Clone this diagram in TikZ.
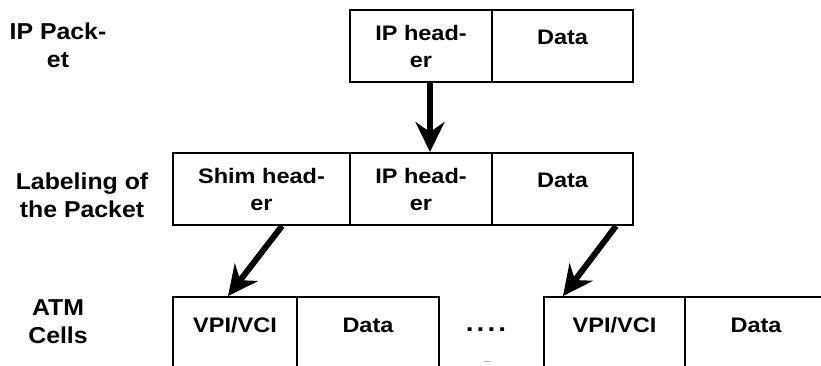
\documentclass[tikz,border=0pt]{standalone}
\usepackage{fontspec}
\setmainfont{Liberation Sans}
\newfontfamily\cellfont[FakeStretch=1.12]{Liberation Sans}
\newfontfamily\rowfont[FakeStretch=1.08]{Liberation Sans}
\usetikzlibrary{arrows.meta}

\begin{document}
\begin{tikzpicture}[
        x=1pt, y=1pt,
        flow/.style={-{Stealth[length=30pt, width=29pt, inset=10pt]}, line width=6pt},
        cell/.style={draw, line width=1.9pt, inner sep=0pt, align=center,
            minimum height=72pt, font=\fontsize{21}{27}\cellfont\bfseries},
        onecell/.style={cell, minimum height=0pt, text height=35pt, text depth=37pt},
        atmcell/.style={cell, minimum height=0pt, text height=35pt, text depth=70pt},
        rowlabel/.style={align=center, inner sep=0pt,
            font=\fontsize{23}{28}\rowfont\bfseries}
    ]
        \useasboundingbox (0,0) rectangle (821,-366);

        % Row labels.
        \node[rowlabel] (lblip) at (58,-45.5) {IP Pack-\\et};
        \node[rowlabel] (lbllab) at (82,-195.6) {Labeling of\\the Packet};
        \node[rowlabel] (lblatm) at (58,-321.6) {ATM\\Cells};

        % IP packet.
        \node[cell, minimum width=142pt] (iphdr) at (421,-46) {IP head-\\er};
        \node[onecell, minimum width=141pt] (ipdata) at (562.5,-46) {Data};

        % Labelled packet.
        \node[cell, minimum width=177pt] (shim) at (261.5,-189) {Shim head-\\er};
        \node[cell, minimum width=142pt] (labhdr) at (421,-189) {IP head-\\er};
        \node[onecell, minimum width=141pt] (labdata) at (562.5,-189) {Data};

        % ATM cells, cut off at the bottom.
        \node[atmcell, minimum width=124pt] (vpia) at (235,-349.5) {VPI/VCI};
        \node[atmcell, minimum width=142pt] (dataa) at (368,-349.5) {Data};
        \node[atmcell, minimum width=141pt] (vpib) at (614.5,-349.5) {VPI/VCI};
        \node[atmcell, minimum width=142pt] (datab) at (756,-349.5) {Data};
        \node[anchor=base, inner sep=0pt, font=\fontsize{25}{27}\cellfont\bfseries]
            (dots) at (486,-331) {.\hspace{3pt}.\hspace{3pt}.\hspace{3pt}.};
        \draw[gray!60, line width=1pt] (484,-361) -- (490,-361);

        \draw[flow] ([xshift=9pt]iphdr.south) -- ([xshift=9pt]labhdr.north);
        \draw[flow] ([xshift=20.5pt]shim.south) -- ([xshift=-7pt]vpia.north);
        \draw[flow] ([xshift=53.5pt]labdata.south) -- ([xshift=-51.5pt]vpib.north);
    \end{tikzpicture}
\end{document}
